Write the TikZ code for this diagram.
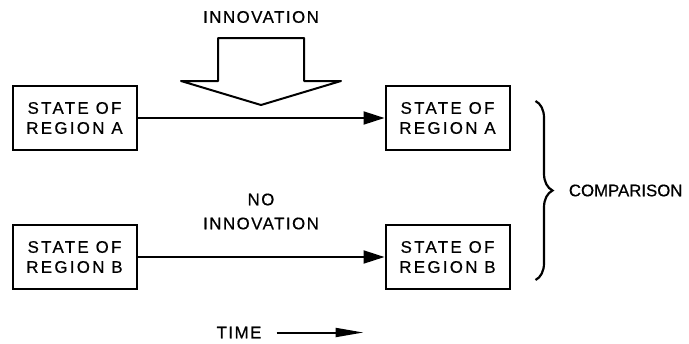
\documentclass[tikz,border=0pt]{standalone}
\usepackage{fontspec}
\setmainfont{Liberation Sans}
\newfontfamily\lbl[LetterSpace=9,FakeBold=0.6]{Liberation Sans}
\newfontfamily\boxlbl[LetterSpace=14,FakeBold=0.6]{Liberation Sans}
\newfontfamily\cmplbl[FakeBold=0.6]{Liberation Sans}
\usetikzlibrary{arrows.meta,positioning,calc,decorations.pathreplacing}

\begin{document}
\begin{tikzpicture}[
  x=1pt, y=1pt,
  node distance=36.5pt and 123.5pt,
  state/.style={rectangle, draw, line width=1pt, minimum width=62pt, minimum height=32pt,
                inner sep=0pt, align=center, font=\fontsize{8.4}{10}\boxlbl},
  txt/.style={inner sep=0pt, align=center, font=\fontsize{8.4}{12}\lbl},
  arr/.style={-{Triangle[length=10.5pt,width=6.5pt]}, line width=1pt},
  tarr/.style={-{Triangle[length=14pt,width=4.5pt]}, line width=1pt},
]
\useasboundingbox (0,0) rectangle (344.5,-171.5);
\node[state] (sa) at (37.25,-59) {STATE OF\\REGION A};
\node[state, right=of sa] (ea) {STATE OF\\REGION A};
\node[state, below=of sa] (sb) {STATE OF\\REGION B};
\node[state, right=of sb] (eb) {STATE OF\\REGION B};
\draw[arr] (sa) -- (ea);
\draw[arr] (sb) -- (eb);
% innovation arrow
\coordinate (ma) at ($(sa.east)!.5!(ea.west)$);
\begin{scope}[shift={(ma)}]
  \draw[line width=1pt, line join=round]
    (-21.5,40) -- (-21.5,18.5) -- (-40,18.5) -- (0,6.5) -- (40,18.5)
    -- (21.5,18.5) -- (21.5,40) -- cycle;
\end{scope}
\node[txt] (inn) at ($(ma)+(0,50.5)$) {INNOVATION};
\coordinate (mb) at ($(sb.east)!.5!(eb.west)$);
\node[txt] (noinn) at ($(mb)+(0,22.75)$) {NO\\INNOVATION};
% time
\node[txt] (time) at ($(mb)+(-11,-37.75)$) {TIME};
\coordinate (tend) at ($(mb)+(51.25,-37.75)$);
\draw[tarr] ([xshift=7.5pt]time.east) -- (tend);
% comparison
\coordinate (b1) at ($(ea.north east)+(12.5,-8)$);
\coordinate (b2) at ($(eb.south east)+(12.5,5)$);
\draw[decorate, decoration={brace, amplitude=8.5pt}, line width=1.1pt] (b1) -- (b2);
\node[txt, font=\fontsize{8.4}{10}\cmplbl, anchor=west] (cmp) at ($(b1)!.5!(b2)+(16.5,0)$) {COMPARISON};
\end{tikzpicture}
\end{document}
